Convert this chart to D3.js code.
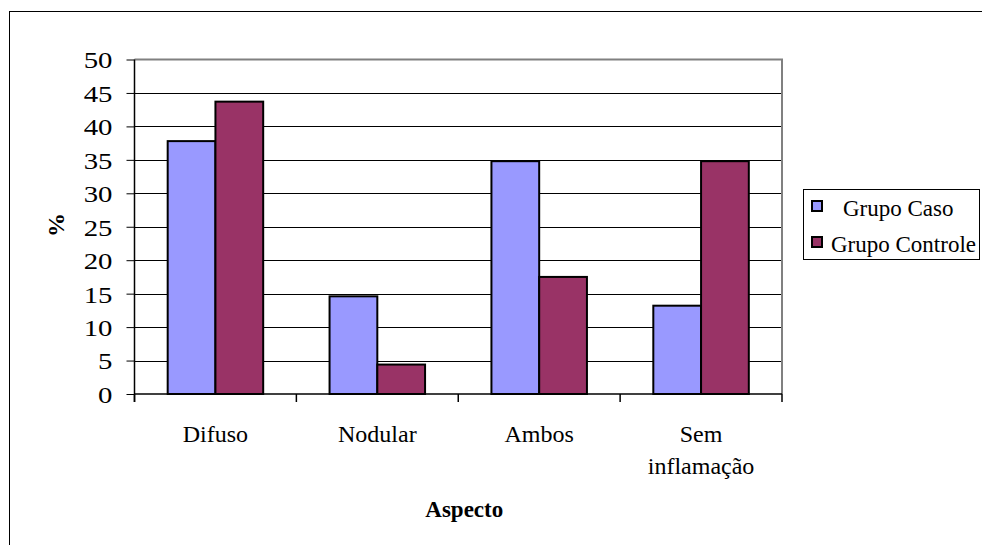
<!DOCTYPE html>
<html>
<head>
<meta charset="utf-8">
<script src="https://cdn.jsdelivr.net/npm/d3@7"></script>
<style>
  html, body { margin: 0; padding: 0; background: #fff; }
  svg { display: block; }
</style>
</head>
<body>
<svg id="chart" width="982" height="545"></svg>
<script>
// Percentages by aspect, case vs control group
const categories = ["Difuso", "Nodular", "Ambos", "Sem inflamação"];
const seriesNames = ["Grupo Caso", "Grupo Controle"];
const grupoCaso = [37.8, 14.6, 34.8, 13.2];
const grupoControle = [43.7, 4.4, 17.5, 34.8];
const yTicks = [0, 5, 10, 15, 20, 25, 30, 35, 40, 45, 50];
const seriesColors = ["#9999FF", "#993366"];

const FONT = '"Liberation Serif", Tinos, "Times New Roman", Times, "DejaVu Serif", serif';
const svg = d3.select("#chart").attr("font-family", FONT);
const plot = { left: 134.5, right: 782, top: 59.5, bottom: 394 };

// Outer chart frame
svg.append("rect")
  .attr("x", 9.5).attr("y", 11.5)
  .attr("width", 1000).attr("height", 600)
  .attr("fill", "#fff").attr("stroke", "#000").attr("stroke-width", 1);

const x = d3.scaleBand().domain(categories).range([plot.left, plot.right]).padding(0);
const y = d3.scaleLinear().domain([0, 50]).range([plot.bottom, plot.top]);
const bw = x.bandwidth();
const x1 = d3.scaleBand().domain(seriesNames).range([bw * 0.205, bw * 0.795]).padding(0);

// Horizontal gridlines
svg.append("g").selectAll("line")
  .data(yTicks.filter(t => t > 0 && t < 50))
  .join("line")
  .attr("x1", plot.left).attr("x2", plot.right)
  .attr("y1", d => Math.round(y(d)) + 0.5).attr("y2", d => Math.round(y(d)) + 0.5)
  .attr("stroke", "#000").attr("stroke-width", 1);

// Plot area border (top and right)
svg.append("path")
  .attr("d", `M${plot.left},${plot.top}H${plot.right}V${plot.bottom}`)
  .attr("fill", "none").attr("stroke", "#808080").attr("stroke-width", 2);

// Bars
const rows = categories.map((c, i) => ({ cat: c, values: [grupoCaso[i], grupoControle[i]] }));
const groups = svg.append("g").selectAll("g")
  .data(rows).join("g")
  .attr("transform", d => `translate(${x(d.cat)},0)`);
groups.selectAll("rect")
  .data(d => d.values.map((v, k) => ({ name: seriesNames[k], v, k })))
  .join("rect")
  .attr("x", d => x1(d.name))
  .attr("y", d => y(d.v))
  .attr("width", x1.bandwidth())
  .attr("height", d => y(0) - y(d.v))
  .attr("fill", d => seriesColors[d.k])
  .attr("stroke", "#000").attr("stroke-width", 2);

// Y axis
const yAxis = svg.append("g")
  .attr("transform", `translate(${plot.left},0)`)
  .call(d3.axisLeft(y).tickValues(yTicks).tickSize(8).tickFormat(d3.format("d")))
  .attr("font-family", FONT).attr("font-size", 24);
yAxis.select(".domain").attr("stroke", "#000").attr("stroke-width", 1.5)
  .attr("d", `M0,${plot.top}V${plot.bottom + 8}`);
yAxis.selectAll(".tick line").attr("stroke", "#000");
yAxis.selectAll(".tick text")
  .attr("x", null).attr("dy", "0.35em")
  .attr("transform", "translate(-22,0) scale(1.2,1)")
  .attr("text-anchor", "end")
  .attr("fill", "#000");

// X axis line and boundary ticks
svg.append("line")
  .attr("x1", plot.left).attr("x2", plot.right)
  .attr("y1", plot.bottom).attr("y2", plot.bottom)
  .attr("stroke", "#000").attr("stroke-width", 1.5);
const bounds = categories.map(c => x(c)).concat([x.range()[1]]);
svg.append("g").selectAll("line")
  .data(bounds).join("line")
  .attr("x1", d => d).attr("x2", d => d)
  .attr("y1", plot.bottom).attr("y2", plot.bottom + 8)
  .attr("stroke", "#000").attr("stroke-width", 1.5);

// Category labels (multi-word labels wrap)
const catLabels = svg.append("g").attr("font-size", 24).selectAll("text")
  .data(categories).join("text")
  .attr("transform", d => `translate(${x(d) + bw / 2},442)`)
  .attr("text-anchor", "middle");
catLabels.each(function (d) {
  const words = d.split(" ");
  const t = d3.select(this);
  words.forEach((w, i) => {
    t.append("tspan").attr("x", 0).attr("dy", i === 0 ? 0 : 32).text(w);
  });
});

// Axis titles
svg.append("text")
  .attr("transform", `translate(${(plot.left + plot.right) / 2 + 6},517)`)
  .attr("text-anchor", "middle")
  .attr("font-size", 23).attr("font-weight", "bold")
  .text("Aspecto");
svg.append("text")
  .attr("transform", `translate(64,225) rotate(-90)`)
  .attr("text-anchor", "middle")
  .attr("font-size", 24).attr("font-weight", "bold")
  .text("%");

// Legend
const legend = svg.append("g");
legend.append("rect")
  .attr("x", 803.5).attr("y", 189.5).attr("width", 176).attr("height", 70)
  .attr("fill", "#fff").attr("stroke", "#000").attr("stroke-width", 1);
const legendRows = [
  { name: seriesNames[0], color: seriesColors[0], my: 201, tx: 843, ty: 216 },
  { name: seriesNames[1], color: seriesColors[1], my: 237, tx: 831, ty: 252 }
];
legend.selectAll("rect.mark").data(legendRows).join("rect")
  .attr("class", "mark")
  .attr("x", 812).attr("y", d => d.my).attr("width", 10).attr("height", 10)
  .attr("fill", d => d.color).attr("stroke", "#000").attr("stroke-width", 2);
legend.selectAll("text.lbl").data(legendRows).join("text")
  .attr("class", "lbl")
  .attr("transform", d => `translate(${d.tx},${d.ty})`)
  .attr("font-size", 23)
  .text(d => d.name);
</script>
</body>
</html>
